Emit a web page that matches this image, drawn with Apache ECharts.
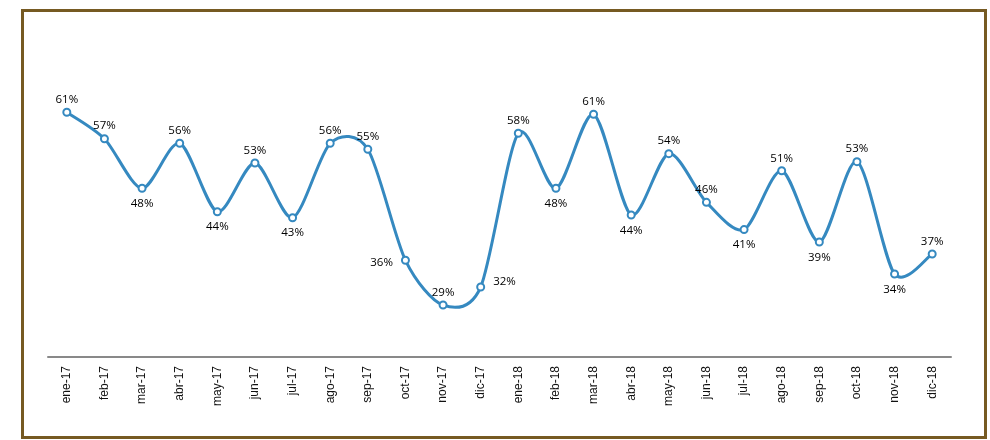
<!DOCTYPE html>
<html>
<head>
<meta charset="utf-8">
<script src="https://cdn.jsdelivr.net/npm/echarts@6/dist/echarts.min.js"></script>
<style>
  html, body { margin: 0; padding: 0; background: #fff; }
  #main { width: 990px; height: 440px; }
</style>
</head>
<body>
<div id="main"></div>
<script>
// meses (eje x)
const meses = ['ene-17', 'feb-17', 'mar-17', 'abr-17', 'may-17', 'jun-17', 'jul-17', 'ago-17', 'sep-17', 'oct-17', 'nov-17', 'dic-17',
  'ene-18', 'feb-18', 'mar-18', 'abr-18', 'may-18', 'jun-18', 'jul-18', 'ago-18', 'sep-18', 'oct-18', 'nov-18', 'dic-18'];
// porcentaje mensual
const valores = [61.2, 56.75, 48.4, 55.98, 44.46, 52.66, 43.45, 55.98, 54.97, 36.28, 28.75, 31.78,
  57.66, 48.4, 60.86, 43.91, 54.23, 46.04, 41.45, 51.36, 39.36, 52.88, 33.97, 37.34];
// donde va cada etiqueta
const posEtiqueta = ['top', 'top', 'bottom', 'top', 'bottom', 'top', 'bottom', 'top', 'top', 'left', 'top', 'right',
  'top', 'bottom', 'top', 'bottom', 'top', 'top', 'bottom', 'top', 'bottom', 'top', 'bottom', 'top'];

const azul = '#3589c0';
const tension = 0.14;

// curva suavizada tipo Excel usando las coordenadas del eje
const renderCurva = (params, api) => {
  const pts = valores.map((v, i) => api.coord([i, v]));
  const n = pts.length;
  let d = 'M' + pts[0][0] + ' ' + pts[0][1];
  for (let i = 0; i < n - 1; i++) {
    const p0 = pts[Math.max(i - 1, 0)];
    const p1 = pts[i];
    const p2 = pts[i + 1];
    const p3 = pts[Math.min(i + 2, n - 1)];
    const c1x = p1[0] + (p2[0] - p0[0]) * tension;
    const c1y = p1[1] + (p2[1] - p0[1]) * tension;
    const c2x = p2[0] - (p3[0] - p1[0]) * tension;
    const c2y = p2[1] - (p3[1] - p1[1]) * tension;
    d += ' C' + c1x + ' ' + c1y + ' ' + c2x + ' ' + c2y + ' ' + p2[0] + ' ' + p2[1];
  }
  return {
    type: 'path',
    shape: { pathData: d },
    style: { fill: 'none', stroke: azul, lineWidth: 3 }
  };
};

const myChart = echarts.init(document.getElementById('main'));

const option = {
  animation: false,
  graphic: [
    {
      type: 'rect',
      shape: { x: 22.5, y: 10.5, width: 963, height: 427 },
      style: { fill: 'none', stroke: '#765a22', lineWidth: 3 },
      silent: true
    }
  ],
  grid: { left: 48, right: 39, top: 60, bottom: 83 },
  xAxis: {
    type: 'category',
    data: meses,
    boundaryGap: true,
    axisLine: { lineStyle: { color: '#898989', width: 2 } },
    axisTick: { show: false },
    axisLabel: {
      rotate: 90,
      margin: 9,
      color: '#111',
      fontSize: 12,
      fontFamily: 'Liberation Sans'
    }
  },
  yAxis: {
    type: 'value',
    min: 20,
    max: 70,
    show: false,
    splitLine: { show: false }
  },
  series: [
    {
      type: 'custom',
      renderItem: renderCurva,
      data: [[0, valores[0]]],
      silent: true,
      z: 2
    },
    {
      type: 'line',
      z: 3,
      data: valores.map((v, i) => {
        const pos = posEtiqueta[i];
        let dist = pos === 'top' ? 2 : 5;
        let off = [0, 0];
        if (pos === 'left') { dist = 8; off = [0, 2]; }
        if (pos === 'right') { dist = 8; off = [0, -5]; }
        return { value: v, label: { position: pos, distance: dist, offset: off } };
      }),
      symbol: 'emptyCircle',
      symbolSize: 7,
      lineStyle: { width: 0, opacity: 0 },
      itemStyle: { color: azul, borderColor: azul, borderWidth: 1.8 },
      label: {
        show: true,
        color: '#000',
        fontSize: 11.5,
        fontFamily: 'Open Sans',
        formatter: (p) => Math.round(p.value) + '%'
      }
    }
  ]
};
myChart.setOption(option);
</script>
</body>
</html>
